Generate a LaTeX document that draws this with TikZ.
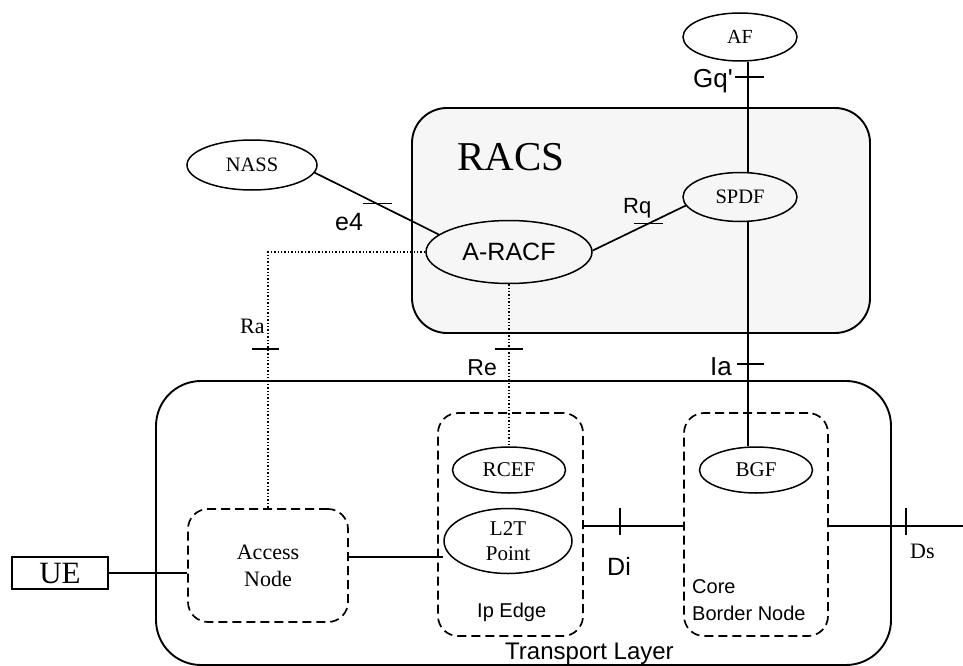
\documentclass[tikz,border=0pt]{standalone}
\usepackage{fontspec}
\setmainfont{Liberation Serif}
\newfontfamily\hv{Liberation Sans}
\usetikzlibrary{shapes.geometric}
\definecolor{racsfill}{RGB}{246,246,246}
\begin{document}
\begin{tikzpicture}[x=1pt,y=-1pt,
  ell/.style={draw, ellipse, line width=1.5pt, inner sep=0pt, align=center},
  bigbox/.style={draw, line width=1.9pt, inner sep=0pt},
  dbox/.style={draw, line width=1.7pt, dash pattern=on 9pt off 5pt, rounded corners=20pt, inner sep=0pt},
  dotline/.style={line width=1.4pt, dash pattern=on 1.4pt off 2pt},
  conn/.style={line width=1.7pt},
  tick/.style={line width=1.7pt},
  sf/.style={font=\hv\fontsize{#1}{#1}\selectfont, inner sep=0pt},
  rm/.style={font=\fontsize{#1}{#1}\selectfont, inner sep=0pt}
]
\useasboundingbox (0,0) rectangle (963,666);

% big boxes
\node[bigbox, rounded corners=35pt, fill=racsfill, minimum width=458pt, minimum height=225pt] (RACS) at (641,220.5) {};
\node[bigbox, rounded corners=45pt, minimum width=735pt, minimum height=284pt] (TL) at (523.5,523) {};

% dashed boxes
\node[dbox, minimum width=160pt, minimum height=113pt, align=center, font=\fontsize{22}{27}\selectfont] (AN) at (268,565.5) {Access\\Node};
\node[dbox, minimum width=145pt, minimum height=223pt] (IPE) at (510.5,524.5) {};
\node[dbox, minimum width=144pt, minimum height=223pt] (CBN) at (756,524.5) {};

% UE
\node[bigbox, minimum width=96pt, minimum height=32pt, font=\fontsize{31}{31}\selectfont] (UE) at (60,573) {UE};

% ellipses
\node[ell, minimum width=114pt, minimum height=48pt, font=\fontsize{20}{20}\selectfont] (AF) at (740,37) {AF};
\node[ell, minimum width=130pt, minimum height=50pt, font=\fontsize{20.5}{20.5}\selectfont] (NASS) at (252,165) {NASS};
\node[ell, minimum width=114pt, minimum height=49pt, font=\fontsize{20.5}{20.5}\selectfont] (SPDF) at (740,197) {SPDF};
\node[ell, minimum width=166pt, minimum height=63pt, font=\hv\fontsize{25}{25}\selectfont] (ARACF) at (509,252) {A-RACF};
\node[ell, minimum width=113pt, minimum height=46pt, font=\fontsize{21}{21}\selectfont] (RCEF) at (509,470) {RCEF};
\node[ell, minimum width=128pt, minimum height=65pt, font=\fontsize{21}{25}\selectfont] (L2T) at (508,541) {L2T\\Point};
\node[ell, minimum width=113pt, minimum height=46pt, font=\fontsize{21}{21}\selectfont] (BGF) at (756,470) {BGF};

% labels
\node[rm=41, anchor=base west] (lRACS) at (457,170) {RACS};
\node[sf=26, anchor=base east] (lGq) at (733,88) {Gq'};
\node[sf=22, anchor=base west] (lRq) at (623,213) {Rq};
\node[sf=25, anchor=base west] (le4) at (335,230) {e4};
\node[rm=22, anchor=base west] (lRa) at (240,333) {Ra};
\node[sf=23, anchor=base east] (lRe) at (497,375) {Re};
\node[sf=26, anchor=base east] (lIa) at (732,375) {Ia};
\node[sf=25, anchor=base west] (lDi) at (607,575) {Di};
\node[rm=22, anchor=base west] (lDs) at (910,558) {Ds};
\node[sf=20, anchor=base west] (lCore) at (692,593) {Core};
\node[sf=20, anchor=base west] (lBN) at (692,620) {Border Node};
\node[sf=20, anchor=base west] (lIpE) at (477,617) {Ip Edge};
\node[sf=24, anchor=base west] (lTL) at (505,659) {Transport Layer};

% vertical AF - SPDF - BGF line
\coordinate (vx) at (748,0);
\draw[conn] (AF.south -| vx) -- (SPDF.north -| vx);
\draw[conn] (SPDF.south -| vx) -- (BGF.north -| vx);
\coordinate (tGq) at (748,77);
\draw[tick] ([xshift=-13pt]tGq) -- ([xshift=16pt]tGq);
\coordinate (tIa) at (748,364);
\draw[tick] ([xshift=-11pt]tIa) -- ([xshift=16pt]tIa);

% NASS - A-RACF (e4)
\draw[conn] (NASS.-7) -- coordinate[pos=0.5] (te4) (ARACF.166);
\draw[tick] ([xshift=-14pt]te4) -- ([xshift=15pt]te4);

% A-RACF - SPDF (Rq)
\draw[conn] (ARACF.1.5) -- coordinate[pos=0.6] (tRq) (SPDF.189);
\draw[tick] ([xshift=-14pt]tRq) -- ([xshift=15pt]tRq);

% Ra dotted
\draw[dotline] (ARACF.west) -| (AN.north);
\coordinate (tRa) at (268,349);
\draw[tick] ([xshift=-16pt]tRa) -- ([xshift=11pt]tRa);

% Re dotted
\draw[dotline] (ARACF.south) -- (RCEF.north);
\coordinate (tRe) at (509,349);
\draw[tick] ([xshift=-14pt]tRe) -- ([xshift=14pt]tRe);

% UE - Access Node
\draw[conn] (UE.east) -- (UE.east -| AN.west);

% Access Node - L2T
\coordinate (al) at (0,557);
\draw[conn] (AN.east |- al) -- (L2T.west |- al);

% Di
\coordinate (dl) at (0,526);
\draw[conn] (IPE.east |- dl) -- (CBN.west |- dl);
\coordinate (tDi) at (620,526);
\draw[tick] ([yshift=18pt]tDi) -- ([yshift=-9pt]tDi);

% Ds
\coordinate (dsend) at (963,526);
\draw[conn] (CBN.east |- dl) -- (dsend);
\coordinate (tDs) at (906,526);
\draw[tick] ([yshift=18pt]tDs) -- ([yshift=-9pt]tDs);
\end{tikzpicture}
\end{document}
